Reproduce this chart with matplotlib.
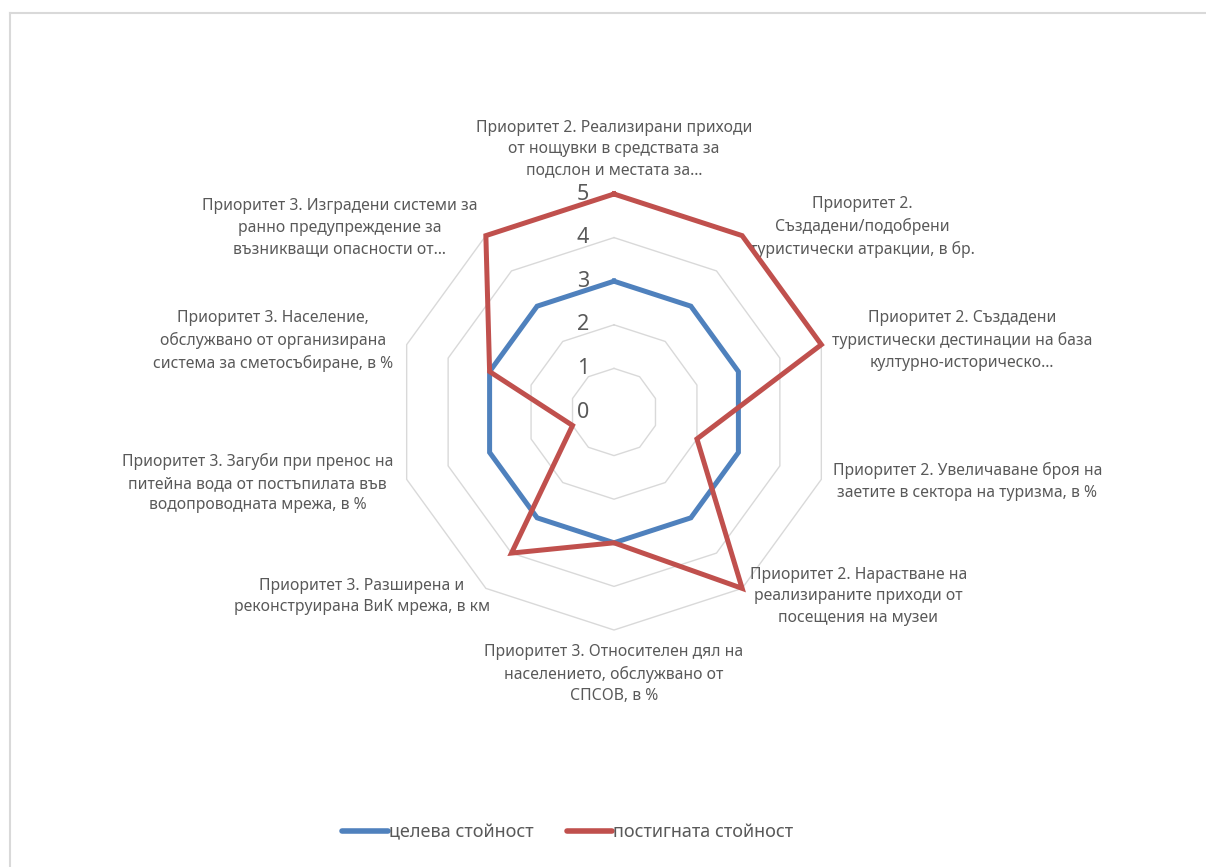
import numpy as np
import matplotlib
matplotlib.use('Agg')
import matplotlib.pyplot as plt
from matplotlib.lines import Line2D

plt.rcParams['font.family'] = ['Noto Sans', 'DejaVu Sans']

# категории (по часовниковата стрелка, започвайки отгоре)
categories = [
    'Приоритет 2. Реализирани приходи\nот нощувки в средствата за\nподслон и местата за…',
    'Приоритет 2.\nСъздадени/подобрени\nтуристически атракции, в бр.',
    'Приоритет 2. Създадени\nтуристически дестинации на база\nкултурно-историческо…',
    'Приоритет 2. Увеличаване броя на\nзаетите в сектора на туризма, в %',
    'Приоритет 2. Нарастване на\nреализираните приходи от\nпосещения на музеи',
    'Приоритет 3. Относителен дял на\nнаселението, обслужвано от\nСПСОВ, в %',
    'Приоритет 3. Разширена и\nреконструирана ВиК мрежа, в км',
    'Приоритет 3. Загуби при пренос на\nпитейна вода от постъпилата във\nводопроводната мрежа, в %',
    'Приоритет 3. Население,\nобслужвано от организирана\nсистема за сметосъбиране, в %',
    'Приоритет 3. Изградени системи за\nранно предупреждение за\nвъзникващи опасности от…',
]
target = [3, 3, 3, 3, 3, 3, 3, 3, 3, 3]
achieved = [5, 5, 5, 2, 5, 3, 4, 1, 3, 5]
levels = [0, 1, 2, 3, 4, 5]

# отместване на надписите спрямо върха на r=5 (пиксели)
label_offsets = [(0, 45), (120, 9), (141, 4), (146, -2), (116, -8),
                 (0, -44), (-124, -8), (-149, -4), (-134, 4), (-146, 8)]

W, H = 1206, 867
fig = plt.figure(figsize=(W / 100, H / 100), dpi=100, facecolor='white')

# рамка на диаграмата
fig.add_artist(Line2D([9.5 / W, 1.0], [1 - 12.5 / H, 1 - 12.5 / H], color='#d9d9d9', lw=1.5))
fig.add_artist(Line2D([9.5 / W, 9.5 / W], [0, 1 - 12.5 / H], color='#d9d9d9', lw=1.5))

cx, cy, R = 614, 412, 218
ax = fig.add_axes([(cx - R) / W, (H - cy - R) / H, 2 * R / W, 2 * R / H], projection='polar')
ax.set_theta_offset(np.pi / 2)
ax.set_theta_direction(-1)
ax.set_ylim(0, 5)
ax.grid(False)
ax.spines['polar'].set_visible(False)
ax.set_xticks([])
ax.set_yticks([])
ax.patch.set_alpha(0)

n = len(categories)
angles = np.linspace(0, 2 * np.pi, n, endpoint=False)
ang_c = np.append(angles, angles[0])

# полигонална мрежа
for lv in levels[1:]:
    ax.plot(ang_c, [lv] * (n + 1), color='#d9d9d9', lw=1, clip_on=False, zorder=1)

ax.plot(ang_c, target + target[:1], color='#4f81bd', lw=3.6, clip_on=False, zorder=3,
        solid_joinstyle='miter', label='целева стойност')
ax.plot(ang_c, achieved + achieved[:1], color='#c0504d', lw=3.6, clip_on=False, zorder=4,
        solid_joinstyle='miter', label='постигната стойност')

# стойности по оста
for lv in levels:
    ax.annotate(str(lv), xy=(0, lv), xytext=(-31, 0), textcoords='offset pixels',
                ha='center', va='center', fontsize=15.5, color='#595959', zorder=5)

# надписи на категориите
for a, lab, off in zip(angles, categories, label_offsets):
    ax.annotate(lab, xy=(a, 5), xytext=off, textcoords='offset pixels',
                ha='center', va='center', fontsize=11.3, color='#595959',
                linespacing=1.45, zorder=2)

leg = fig.legend(loc='center', bbox_to_anchor=(568 / W, 1 - 832 / H), ncol=2,
                 frameon=False, fontsize=13, handlelength=2.5, handletextpad=0.1,
                 columnspacing=1.8)
for t in leg.get_texts():
    t.set_color('#595959')
for h in leg.legend_handles:
    h.set_linewidth(4)
    h.set_solid_capstyle('round')

fig.savefig('out.png', dpi=100, facecolor='white')
